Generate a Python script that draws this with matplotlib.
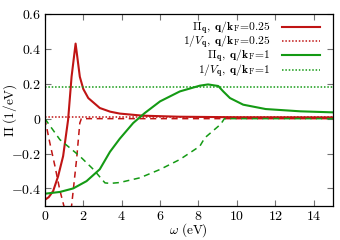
import matplotlib
matplotlib.use("Agg")
import matplotlib.pyplot as plt
from matplotlib.legend import Legend
from matplotlib.ticker import FuncFormatter, MultipleLocator

plt.rcParams['mathtext.fontset'] = 'cm'
plt.rcParams['font.family'] = ['DejaVu Serif']

# Pi_q, q/kF = 0.25 (solid red)
w_r = [0, 0.2, 0.43, 0.69, 0.95, 1.21, 1.39, 1.6, 1.82, 2.0, 2.26, 2.86, 3.4, 3.9, 5.1, 7.0, 10.0, 15.0]
pi_r = [-0.465, -0.45, -0.415, -0.33, -0.215, -0.006, 0.24, 0.43, 0.24, 0.17, 0.118, 0.061, 0.04, 0.029, 0.017, 0.011, 0.008, 0.007]
# second (dashed) red curve
w_rd = [0, 0.26, 0.52, 0.78, 0.99, 1.1, 1.2, 1.3, 1.39, 1.65, 1.82, 1.9, 3.0, 15.0]
pi_rd = [0.0, -0.14, -0.27, -0.41, -0.5, -0.58, -0.62, -0.58, -0.5, -0.234, -0.025, 0.0, 0.0, 0.0]
# 1/V_q, q/kF = 0.25
inv_v_r = 0.012

# Pi_q, q/kF = 1 (solid green)
w_g = [0, 0.78, 1.47, 2.17, 2.86, 3.39, 3.9, 4.6, 5.2, 6.0, 7.03, 8.07, 8.5, 9.03, 9.29, 9.64, 10.33, 11.5, 13.3, 15.0]
pi_g = [-0.43, -0.42, -0.40, -0.358, -0.29, -0.19, -0.115, -0.025, 0.032, 0.099, 0.156, 0.189, 0.196, 0.187, 0.156, 0.118, 0.08, 0.055, 0.042, 0.036]
# second (dashed) green curve
w_gd = [0, 0.78, 1.82, 2.52, 3.13, 3.39, 3.9, 4.95, 6.0, 7.03, 8.07, 8.33, 9.03, 9.2, 9.35, 15.0]
pi_gd = [0.0, -0.12, -0.215, -0.29, -0.368, -0.371, -0.366, -0.339, -0.291, -0.234, -0.158, -0.11, -0.044, -0.025, 0.0, 0.0]
# 1/V_q, q/kF = 1
inv_v_g = 0.18

labels = [r'$\Pi_{\mathbf{q}},\ \mathbf{q}/\mathbf{k}_{\mathrm{F}}\!=\!0.25$',
          r'$1/V_{\mathbf{q}},\ \mathbf{q}/\mathbf{k}_{\mathrm{F}}\!=\!0.25$',
          r'$\Pi_{\mathbf{q}},\ \mathbf{q}/\mathbf{k}_{\mathrm{F}}\!=\!1$',
          r'$1/V_{\mathbf{q}},\ \mathbf{q}/\mathbf{k}_{\mathrm{F}}\!=\!1$']

red = '#c01414'
green = '#149a14'

fig = plt.figure(figsize=(3.4, 2.4), dpi=100)
ax = fig.add_axes([0.132, 0.142, 0.847, 0.80])

l1, = ax.plot(w_r, pi_r, color=red, lw=1.5)
ax.plot(w_rd, pi_rd, color=red, lw=1.1, dashes=(4, 3))
l2 = ax.axhline(inv_v_r, color=red, lw=1.1, ls=(0, (1, 1.2)))
l3, = ax.plot(w_g, pi_g, color=green, lw=1.5)
ax.plot(w_gd, pi_gd, color=green, lw=1.1, dashes=(4, 3))
l4 = ax.axhline(inv_v_g, color=green, lw=1.1, ls=(0, (1, 1.2)))

ax.set_xlim(0, 15)
ax.set_ylim(-0.5, 0.6)
ax.xaxis.set_major_locator(MultipleLocator(2))
ax.yaxis.set_major_locator(MultipleLocator(0.2))

def fmt_x(v, pos):
    return r'$%d$' % round(v)

def fmt_y(v, pos):
    if abs(v) < 1e-9:
        return r'$0$'
    return r'$%.1f$' % v

ax.xaxis.set_major_formatter(FuncFormatter(fmt_x))
ax.yaxis.set_major_formatter(FuncFormatter(fmt_y))
ax.tick_params(direction='in', top=True, right=True, length=4, width=0.8,
               color='0.45', labelsize=10, pad=2.5)
ax.tick_params(axis='x', pad=2)
for s in ax.spines.values():
    s.set_linewidth(0.9)

ax.set_xlabel(r'$\omega\ (\mathrm{eV})$', fontsize=9.5, va='center')
ax.xaxis.set_label_coords(0.5, -0.125)
ax.set_ylabel(r'$\Pi\ (1/\mathrm{eV})$', fontsize=9.5, va='center')
ax.yaxis.set_label_coords(-0.122, 0.5)

# one legend box per entry so the rows sit at even spacing
row_y = [0.927, 0.851, 0.778, 0.704]
handles = [l1, l2, l3, l4]
for h, lab, yy in zip(handles, labels, row_y):
    lg = Legend(ax, [h], [lab], loc='center right', bbox_to_anchor=(0.955, yy),
                frameon=False, markerfirst=False, fontsize=8.3,
                handlelength=3.3, handletextpad=1.0, borderpad=0.0,
                borderaxespad=0.0)
    ax.add_artist(lg)

fig.savefig('out.png', dpi=100)
